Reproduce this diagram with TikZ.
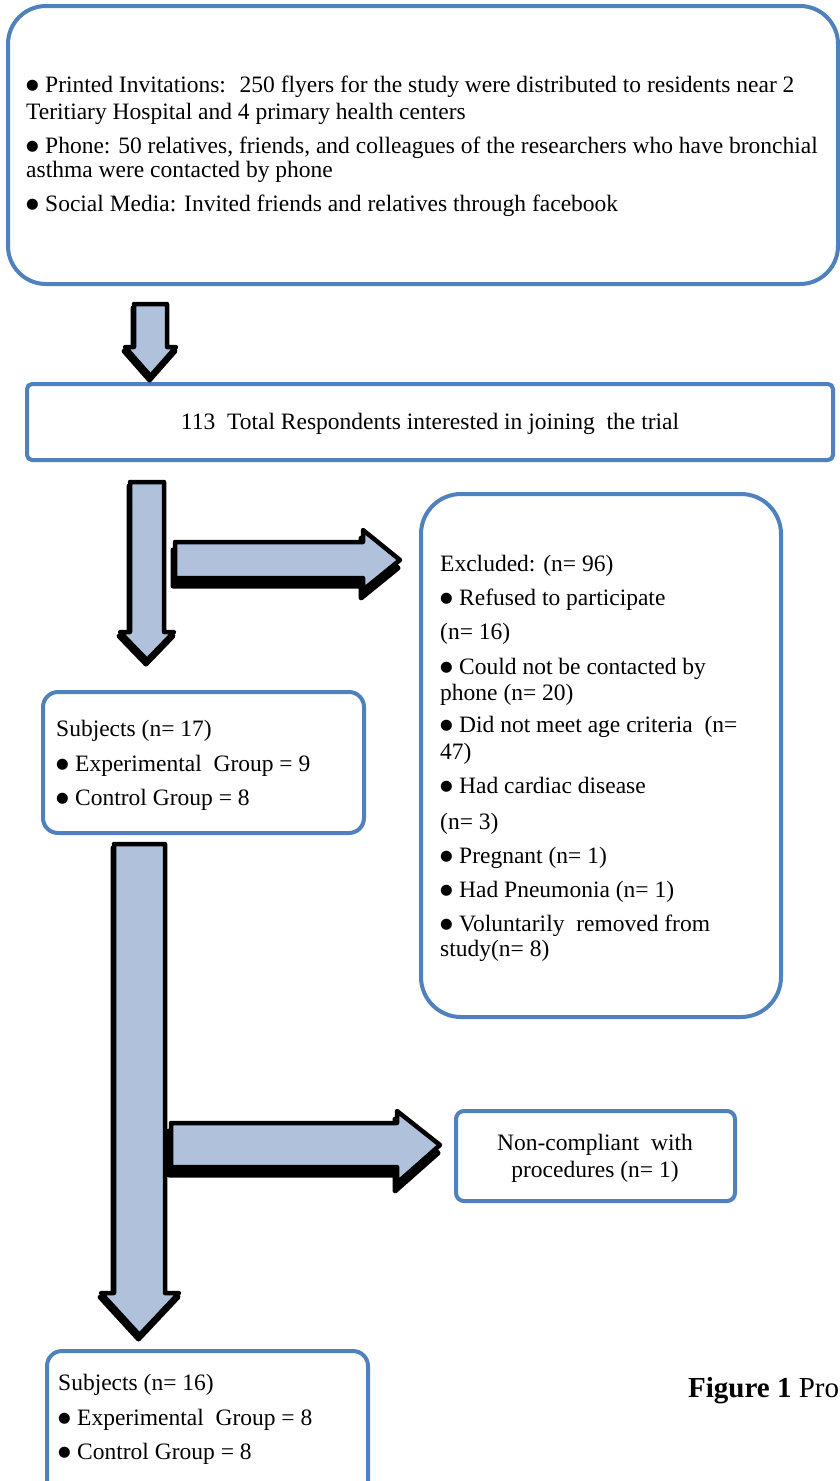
\documentclass[tikz,border=0pt]{standalone}
\usepackage{fontspec}
\setmainfont{Liberation Serif}
\newfontfamily\symf{DejaVu Sans}
\newcommand\bul{\makebox[19pt][l]{\raisebox{2.5pt}{\symf\fontsize{14.5}{14.5}\selectfont ●}}}
\definecolor{boxblue}{HTML}{4F81BD}
\definecolor{arrfill}{HTML}{B0C1DC}
\begin{document}
\begin{tikzpicture}[x=1pt,y=-1pt,
  bx/.style={draw=boxblue,line width=4pt},
  txt/.style={inner sep=0pt,anchor=base west,font=\fontsize{23.5}{27}\selectfont},
  ctxt/.style={inner sep=0pt,anchor=base,font=\fontsize{23.5}{27}\selectfont},
  shadowpart/.style={fill=black,draw=black,line width=5pt,line join=round},
  arrpart/.style={fill=arrfill,draw=black,line width=4.5pt,line join=round}]
\useasboundingbox (0,0) rectangle (840,1481);

% boxes
\draw[bx,rounded corners=38pt] (8,6) rectangle (838,284);
\node[inner sep=0pt] (top) at (423,145) {};
\draw[bx,rounded corners=5pt] (27,384) rectangle (833,460);
\node[inner sep=0pt] (resp) at (430,422) {};
\draw[bx,rounded corners=40pt] (421,494) rectangle (781,1017);
\draw[bx,rounded corners=15pt] (43,692) rectangle (364,833);
\draw[bx,rounded corners=8pt] (456,1111) rectangle (735,1201);
\draw[bx,rounded corners=15pt] (47,1351) rectangle (368,1500);

% top text
\node[txt] (p1) at (26,92) {\bul Printed Invitations: \ 250 flyers for the study were distributed to residents near 2};
\node[txt] (p2) at (26,119) {Teritiary Hospital and 4 primary health centers};
\node[txt] (p3) at (26,153) {\bul Phone: 50 relatives, friends, and colleagues of the researchers who have bronchial};
\node[txt] (p4) at (26,177) {asthma were contacted by phone};
\node[txt] (p5) at (26,211) {\bul Social Media: Invited friends and relatives through facebook};

\node[ctxt] (r1) at (430,429) {113 \ Total Respondents interested in joining \ the trial};

% excluded
\node[txt] (e1) at (440,571) {Excluded: (n= 96)};
\node[txt] (e2) at (440,605) {\bul Refused to participate};
\node[txt] (e3) at (440,639) {(n= 16)};
\node[txt] (e4) at (440,674) {\bul Could not be contacted by};
\node[txt] (e5) at (440,700) {phone (n= 20)};
\node[txt] (e6) at (440,732) {\bul Did not meet age criteria \ (n=};
\node[txt] (e7) at (440,759) {47)};
\node[txt] (e8) at (440,793) {\bul Had cardiac disease};
\node[txt] (e9) at (440,829) {(n= 3)};
\node[txt] (e10) at (440,863) {\bul Pregnant (n= 1)};
\node[txt] (e11) at (440,897) {\bul Had Pneumonia (n= 1)};
\node[txt] (e12) at (440,931) {\bul Voluntarily \ removed from};
\node[txt] (e13) at (440,956) {study(n= 8)};

% subjects 17
\node[txt] (s1) at (56,736) {Subjects (n= 17)};
\node[txt] (s2) at (56,771) {\bul Experimental \ Group = 9};
\node[txt] (s3) at (56,805) {\bul Control Group = 8};

% non-compliant
\node[ctxt] (n1) at (595,1150) {Non-compliant \ with};
\node[ctxt] (n2) at (595,1177) {procedures (n= 1)};

% subjects 16
\node[txt] (u1) at (58,1390) {Subjects (n= 16)};
\node[txt] (u2) at (58,1425) {\bul Experimental \ Group = 8};
\node[txt] (u3) at (58,1459) {\bul Control Group = 8};

% caption
\node[txt,font=\fontsize{29}{33}\selectfont] (cap) at (688,1397) {\textbf{Figure 1} Pro};

% block arrows
\newcommand\downarrowshape[7]{% left right top headY headL headR tipY
  (#1,#3) -- (#2,#3) -- (#2,#4) -- (#6,#4) -- ({(#1+#2)/2},#7) -- (#5,#4) -- (#1,#4) -- cycle}
\newcommand\rightarrowshape[7]{% left top bottom headX headT headB tipX
  (#1,#2) -- (#4,#2) -- (#4,#5) -- (#7,{(#2+#3)/2}) -- (#4,#6) -- (#4,#3) -- (#1,#3) -- cycle}

% arrow 1
\draw[shadowpart,shift={(-1,4)}] \downarrowshape{134}{167}{304}{347}{125}{176}{376};
\draw[arrpart] \downarrowshape{134}{167}{304}{347}{125}{176}{376};
% arrow 2
\draw[shadowpart,shift={(-1,4)}] \downarrowshape{130}{164}{482}{632}{120}{174}{660};
\draw[arrpart] \downarrowshape{130}{164}{482}{632}{120}{174}{660};
% right arrow 1
\draw[shadowpart,shift={(-2,8)}] \rightarrowshape{175}{542}{578}{363}{530}{590}{400};
\draw[arrpart] \rightarrowshape{175}{542}{578}{363}{530}{590}{400};
% arrow 3
\draw[shadowpart,shift={(-1,4)}] \downarrowshape{114}{165}{844}{1293}{101}{179}{1335};
\draw[arrpart] \downarrowshape{114}{165}{844}{1293}{101}{179}{1335};
% right arrow 2
\draw[shadowpart,shift={(-2,8)}] \rightarrowshape{171}{1123}{1167}{397}{1111}{1183}{440};
\draw[arrpart] \rightarrowshape{171}{1123}{1167}{397}{1111}{1183}{440};
\end{tikzpicture}
\end{document}
